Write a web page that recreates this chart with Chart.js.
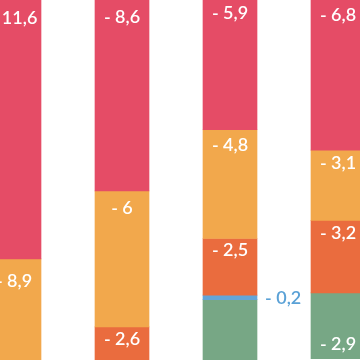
<!DOCTYPE html>
<html>
<head>
<meta charset="utf-8">
<script src="https://cdn.jsdelivr.net/npm/chart.js@4"></script>
<style>
  html, body { margin: 0; padding: 0; background: #fff; overflow: hidden; width: 360px; height: 360px; }
  #wrap { position: absolute; left: -40px; top: -4px; width: 432px; height: 400px; }
</style>
</head>
<body>
<div id="wrap"><canvas id="chart" width="432" height="400"></canvas></div>
<script>
// values (negative, stacked down from zero)
const categories = ['A', 'B', 'C', 'D'];
const red = [-11.6, -8.6, -5.9, -6.8];
const orange = [-8.9, -6, -4.8, -3.1];
const darkOrange = [null, -2.6, -2.5, -3.2];
const blue = [null, null, -0.2, null];
const green = [null, null, -4.1, -2.9];

const fmt = v => '- ' + String(Math.abs(v)).replace('.', ',');

// segment labels: white near the top of each block, blue one beside the bar
const segLabels = {
    id: 'segLabels',
    afterDatasetsDraw(chart) {
        const ctx = chart.ctx;
        ctx.save();
        ctx.font = '600 18px Lato';
        ctx.textBaseline = 'middle';
        chart.data.datasets.forEach((ds, i) => {
            const meta = chart.getDatasetMeta(i);
            meta.data.forEach((bar, j) => {
                const v = ds.data[j];
                if (v === null || v === undefined) return;
                const top = Math.min(bar.y, bar.base);
                const bottom = Math.max(bar.y, bar.base);
                const h = bottom - top;
                if (ds.label === 'blue') {
                    ctx.fillStyle = '#5aa1d6';
                    ctx.textAlign = 'left';
                    ctx.fillText(fmt(v), bar.x + bar.width / 2 + 8, (top + bottom) / 2 + 1);
                } else if (ds.label === 'green') {
                    ctx.fillStyle = '#fff';
                    ctx.textAlign = 'center';
                    ctx.fillText(fmt(v), bar.x, bottom - 14);
                } else {
                    ctx.fillStyle = '#fff';
                    ctx.textAlign = 'center';
                    ctx.fillText(fmt(v), bar.x, top + Math.min(22, 8 + 0.07 * h));
                }
            });
        });
        ctx.restore();
    }
};

new Chart(document.getElementById('chart'), {
    type: 'bar',
    data: {
        labels: categories,
        datasets: [
            { label: 'red', data: red, backgroundColor: '#e54c66' },
            { label: 'orange', data: orange, backgroundColor: '#f2a84c' },
            { label: 'darkOrange', data: darkOrange, backgroundColor: '#ea6c3e' },
            { label: 'blue', data: blue, backgroundColor: '#64a5d8' },
            { label: 'green', data: green, backgroundColor: '#77a785' }
        ]
    },
    options: {
        responsive: false,
        animation: false,
        barThickness: 54,
        layout: { padding: 0 },
        scales: {
            x: { stacked: true, display: false },
            y: { stacked: true, display: false, min: -17.65, max: 0 }
        },
        plugins: {
            legend: { display: false },
            tooltip: { enabled: false }
        }
    },
    plugins: [segLabels]
});
</script>
</body>
</html>
